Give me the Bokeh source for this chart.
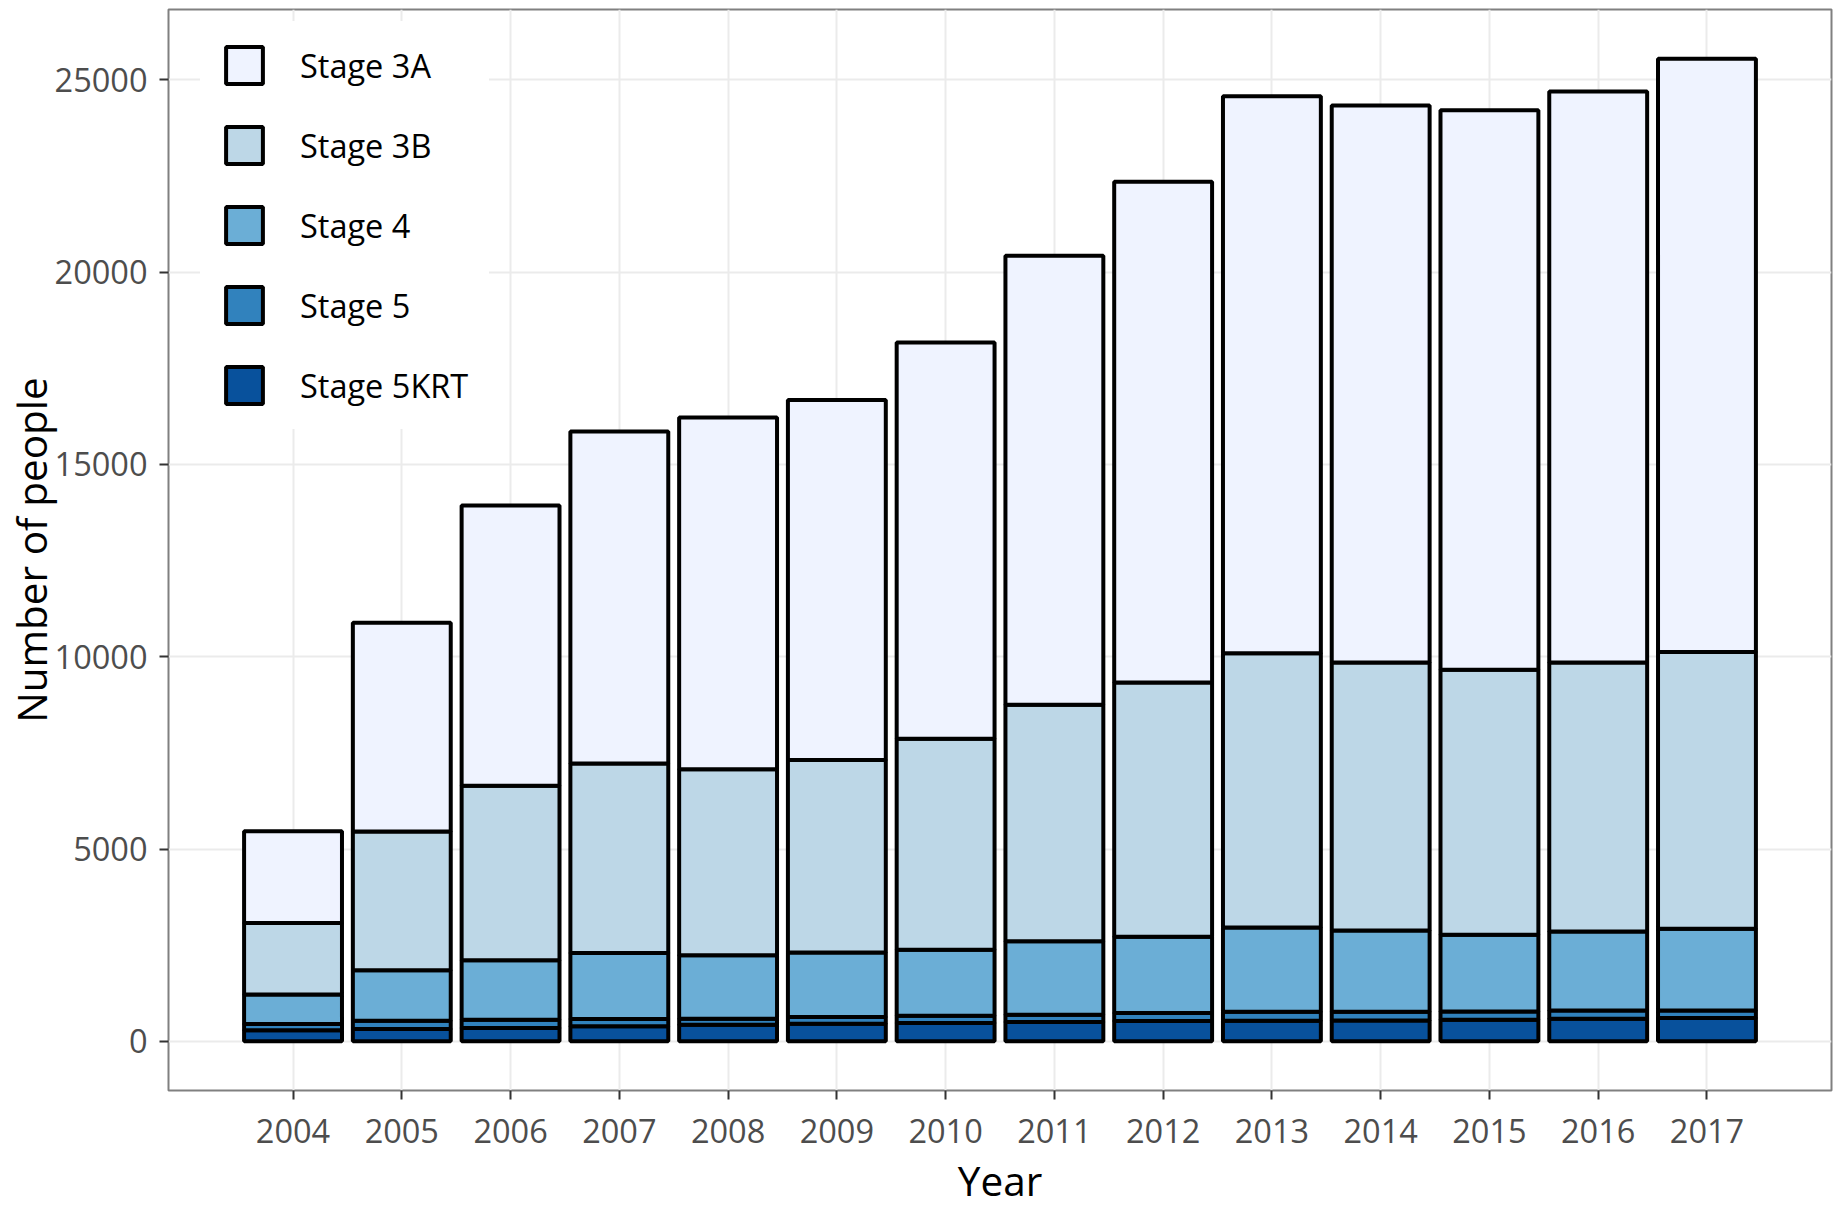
from bokeh.plotting import figure
from bokeh.models import ColumnDataSource, FixedTicker, Legend, LegendItem, Range1d
from bokeh.embed import file_html
from bokeh.resources import INLINE

years = [2004, 2005, 2006, 2007, 2008, 2009, 2010, 2011, 2012, 2013, 2014, 2015, 2016, 2017]
stage_5krt = [290, 320, 345, 390, 430, 460, 475, 500, 530, 535, 545, 560, 590, 605]
stage_5 = [160, 215, 215, 190, 155, 175, 190, 190, 205, 235, 225, 215, 215, 200]
stage_4 = [770, 1315, 1550, 1720, 1655, 1675, 1715, 1910, 1985, 2190, 2110, 1995, 2050, 2120]
stage_3b = [1860, 3608, 4537, 4926, 4834, 5008, 5486, 6151, 6610, 7132, 6968, 6895, 6993, 7198]
stage_3a = [2380, 5427, 7287, 8629, 9146, 9360, 10306, 11677, 13019, 14483, 14483, 14544, 14849, 15428]

stack_keys = ["s5krt", "s5", "s4", "s3b", "s3a"]
stack_labels = ["Stage 5KRT", "Stage 5", "Stage 4", "Stage 3B", "Stage 3A"]
stack_colors = ["#08519c", "#3182bd", "#6baed6", "#bdd7e7", "#eff3ff"]
y_ticks = [0, 5000, 10000, 15000, 20000, 25000]

source = ColumnDataSource(dict(year=years, s5krt=stage_5krt, s5=stage_5, s4=stage_4,
                               s3b=stage_3b, s3a=stage_3a))

FONT = "Open Sans"

p = figure(width=1841, height=1210, output_backend="svg", toolbar_location=None,
           x_range=Range1d(2002.855, 2018.145), y_range=Range1d(-1278, 26829),
           min_border_left=168, min_border_right=10, min_border_top=9, min_border_bottom=120)

renderers = p.vbar_stack(stack_keys, x="year", width=0.9, source=source,
                         color=stack_colors, line_color="black", line_width=4)

# axes
p.xaxis.ticker = FixedTicker(ticks=years)
p.yaxis.ticker = FixedTicker(ticks=y_ticks)
p.xaxis.axis_label = "Year"
p.yaxis.axis_label = "Number of people"
for ax in (p.xaxis, p.yaxis):
    ax.axis_line_color = None
    ax.major_tick_line_color = "#333333"
    ax.major_tick_line_width = 2
    ax.major_tick_out = 9
    ax.major_tick_in = 0
    ax.minor_tick_line_color = None
    ax.major_label_text_font = FONT
    ax.major_label_text_font_size = "32.5px"
    ax.major_label_text_color = "#4d4d4d"
    ax.axis_label_text_font = FONT
    ax.axis_label_text_font_size = "40.5px"
    ax.axis_label_text_font_style = "normal"
    ax.axis_label_text_color = "black"
p.yaxis.major_label_standoff = 12
p.yaxis.axis_label_standoff = -7
p.xaxis.major_label_standoff = 19
p.xaxis.axis_label_standoff = 7

# grid
p.xgrid.ticker = FixedTicker(ticks=years)
p.ygrid.ticker = FixedTicker(ticks=y_ticks)
for g in (p.xgrid, p.ygrid):
    g.grid_line_color = "#ebebeb"
    g.grid_line_width = 2

p.outline_line_color = "#808080"
p.outline_line_width = 2
p.background_fill_color = "white"
p.border_fill_color = "white"

# legend (Stage 3A on top)
items = [LegendItem(label=lab, renderers=[r]) for lab, r in zip(stack_labels, renderers)]
items = items[::-1]
legend = Legend(items=items, location=(32, 661), orientation="vertical",
                glyph_width=46, glyph_height=46, label_standoff=33, spacing=34,
                padding=20, margin=0,
                label_text_font=FONT, label_text_font_size="32.5px", label_text_color="black",
                background_fill_color="white", background_fill_alpha=1.0,
                border_line_color="white", border_line_alpha=1.0)
p.add_layout(legend, "center")

open("out.html", "w").write(file_html(p, INLINE))
